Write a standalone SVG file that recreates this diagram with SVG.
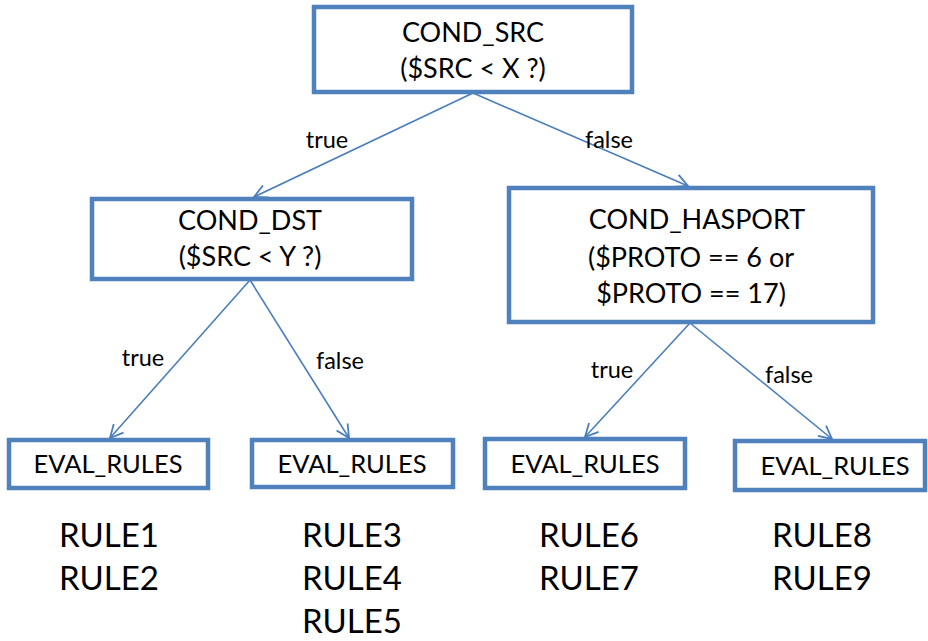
<svg xmlns="http://www.w3.org/2000/svg" width="928" height="641" viewBox="0 0 928 641">
<defs>
<style>
.box{fill:#ffffff;stroke:#4f81bd;stroke-width:4.5;}
.t{font-family:Lato,"Liberation Sans",sans-serif;fill:#000;text-anchor:middle;}
.bt{font-size:27px;}
.et{font-size:25.5px;}
.lb{font-size:23.5px;}
.rl{font-size:33px;}
.ln{stroke:#4a7ebb;stroke-width:1.6;fill:none;marker-end:url(#ah);}
</style>
<marker id="ah" markerUnits="userSpaceOnUse" markerWidth="16" markerHeight="16" viewBox="-14 -8 16 16" refX="0" refY="0" orient="auto">
<path d="M-13,-6.5 L0,0 L-13,6.5" fill="none" stroke="#4a7ebb" stroke-width="1.8"/>
</marker>
</defs>
<rect width="928" height="641" fill="#ffffff"/>
<g id="connectors">
<line class="ln" x1="473" y1="93" x2="254" y2="197"/>
<line class="ln" x1="473" y1="93" x2="688" y2="186"/>
<line class="ln" x1="250" y1="280" x2="110" y2="438"/>
<line class="ln" x1="250" y1="280" x2="349" y2="438"/>
<line class="ln" x1="690" y1="323" x2="585" y2="437"/>
<line class="ln" x1="690" y1="323" x2="832" y2="439"/>
<text class="t lb" x="327" y="148">true</text>
<text class="t lb" x="609" y="148">false</text>
<text class="t lb" x="143" y="366">true</text>
<text class="t lb" x="340" y="369">false</text>
<text class="t lb" x="612" y="378">true</text>
<text class="t lb" x="789" y="383">false</text>
</g>
<g id="cond_src">
<rect class="box" x="314" y="7" width="318" height="85"/>
<text class="t bt" x="473" y="42">COND_SRC</text>
<text class="t bt" x="473" y="78">($SRC &lt; X ?)</text>
</g>
<g id="cond_dst">
<rect class="box" x="92" y="199" width="320" height="80"/>
<text class="t bt" x="250" y="230">COND_DST</text>
<text class="t bt" x="250" y="266">($SRC &lt; Y ?)</text>
</g>
<g id="cond_hasport">
<rect class="box" x="509" y="188" width="364" height="134"/>
<text class="t bt" x="697" y="229">COND_HASPORT</text>
<text class="t bt" x="691" y="267">($PROTO == 6 or</text>
<text class="t bt" x="691" y="303">$PROTO == 17)</text>
</g>
<g id="eval1">
<rect class="box" x="9" y="440" width="199" height="48"/>
<text class="t et" x="108" y="473">EVAL_RULES</text>
</g>
<g id="eval2">
<rect class="box" x="252" y="440" width="201" height="47"/>
<text class="t et" x="352" y="473">EVAL_RULES</text>
</g>
<g id="eval3">
<rect class="box" x="485" y="439" width="200" height="49"/>
<text class="t et" x="585" y="473">EVAL_RULES</text>
</g>
<g id="eval4">
<rect class="box" x="735" y="441" width="190" height="49"/>
<text class="t et" x="835" y="475">EVAL_RULES</text>
</g>
<g id="rules1">
<text class="t rl" x="109" y="547">RULE1</text>
<text class="t rl" x="109" y="590">RULE2</text>
</g>
<g id="rules2">
<text class="t rl" x="352" y="547">RULE3</text>
<text class="t rl" x="352" y="590">RULE4</text>
<text class="t rl" x="352" y="633">RULE5</text>
</g>
<g id="rules3">
<text class="t rl" x="589" y="547">RULE6</text>
<text class="t rl" x="589" y="590">RULE7</text>
</g>
<g id="rules4">
<text class="t rl" x="822" y="547">RULE8</text>
<text class="t rl" x="822" y="590">RULE9</text>
</g>
</svg>
